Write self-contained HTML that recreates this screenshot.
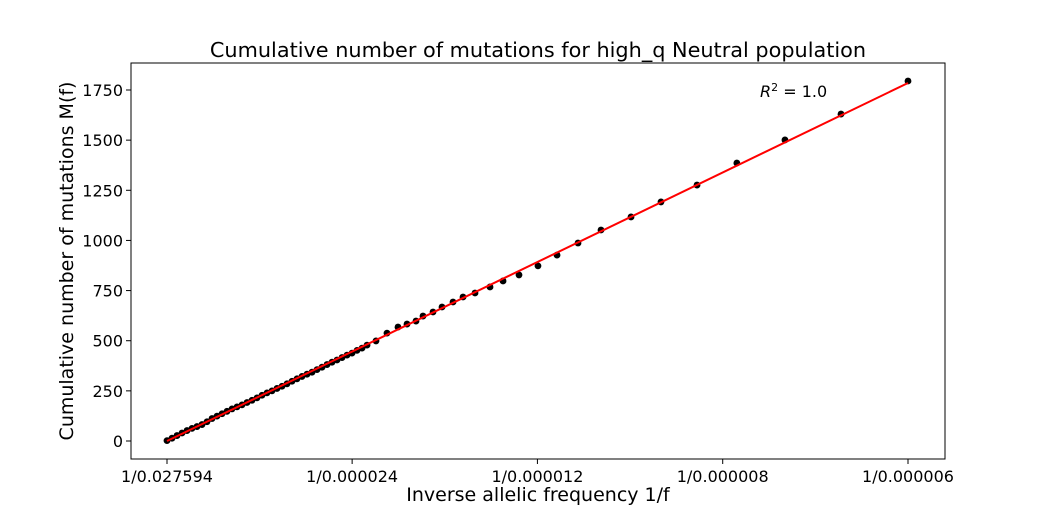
<!DOCTYPE html>
<html><head><meta charset="utf-8"><style>body{margin:0;background:#fff}svg{display:block;font-family:"DejaVu Sans","Liberation Sans",sans-serif}</style></head>
<body>
<svg id="chart" width="1050" height="525" xmlns="http://www.w3.org/2000/svg"></svg>
<script>
const xTicks=[36.24,41667,83333,125000,166667];
const xTickLabels=["1/0.027594","1/0.000024","1/0.000012","1/0.000008","1/0.000006"];
const yTicks=[0,250,500,750,1000,1250,1500,1750];
const invFreq=[36,1160,2285,3409,4534,5658,6783,7907,9032,10156,11281,12405,13530,14654,15779,16903,18028,19152,20277,21401,22526,23650,24775,25899,27024,28148,29273,30397,31522,32646,33771,34895,36020,37144,38269,39393,40518,41642,42767,43891,45016,47035,49507,51980,54005,56030,57600,59850,61875,64350,66600,69300,72670,75600,79190,83460,87740,92460,97630,104380,111120,119220,128180,139000,151600,166667];
const mutations=[2,14,27,40,52,63,72,82,96,112,124,136,148,160,170,180,192,203,215,228,240,250,262,273,285,298,310,322,333,343,356,368,381,393,404,416,428,438,452,463,478,499,538,568,583,598,623,643,668,693,718,738,768,798,828,873,927,987,1052,1117,1192,1276,1386,1501,1630,1795];
const fitX=[36,166667];
const fitY=[0,1785];
const NS="http://www.w3.org/2000/svg";
const svg=document.getElementById('chart');
const L=131,R=945,T=63,B=459;
const sx=v=>167+(v-36.24)*(908-167)/(166667-36.24);
const sy=v=>441-v*(441-90)/1750;
function mk(tag,attrs,parent){const e=document.createElementNS(NS,tag);for(const k in attrs)e.setAttribute(k,attrs[k]);(parent||svg).appendChild(e);return e;}
const title=mk('text',{x:538,y:57,'text-anchor':'middle','font-size':20.8,fill:'#000'});
title.textContent='Cumulative number of mutations for high_q Neutral population';


const frame=mk('rect',{x:L,y:T,width:R-L,height:B-T,fill:'none',stroke:'#000','stroke-width':1});


xTicks.forEach((t,i)=>{const x=sx(t);
 const tk=mk('line',{x1:x,x2:x,y1:B,y2:B+5,stroke:'#000'});
 
 
 const tx=mk('text',{x:x,y:B+23,'text-anchor':'middle','font-size':16});
 tx.textContent=xTickLabels[i];
 
 });
yTicks.forEach(t=>{const y=sy(t);
 const tk=mk('line',{x1:L-5,x2:L,y1:y,y2:y,stroke:'#000'});
 
 
 const tx=mk('text',{x:L-8,y:y+6,'text-anchor':'end','font-size':16});
 tx.textContent=t;
 
 });
const xl=mk('text',{x:538,y:501,'text-anchor':'middle','font-size':19});
xl.textContent='Inverse allelic frequency 1/f';


const yl=mk('text',{x:0,y:0,'text-anchor':'middle','font-size':19,transform:'translate(73,261) rotate(-90)'});
yl.textContent='Cumulative number of mutations M(f)';


invFreq.forEach((v,i)=>{const c=mk('circle',{cx:sx(v),cy:sy(mutations[i]),r:3.4,fill:'#000'});
 
 });
const fl=mk('line',{x1:sx(fitX[0]),y1:sy(fitY[0]),x2:sx(fitX[1]),y2:sy(fitY[1]),stroke:'#f00','stroke-width':2});


const r2=mk('text',{x:760,y:97,'font-size':16});
r2.innerHTML='<tspan font-style="italic">R</tspan><tspan dy="-6" font-size="11">2</tspan><tspan dy="6"> =  1.0</tspan>';


</script>
</body></html>
